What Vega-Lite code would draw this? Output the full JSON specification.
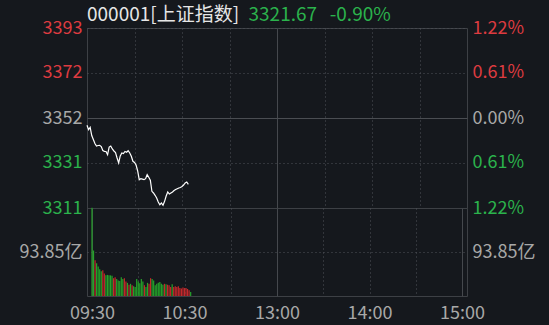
{
  "$schema": "https://vega.github.io/schema/vega-lite/v6.json",
  "background": "#15181d",
  "padding": {"left": 18, "top": 5, "right": 20, "bottom": 5},
  "spacing": 0,
  "bounds": "flush",
  "config": {
    "font": "Noto Sans CJK SC",
    "view": {"stroke": "#3d4045", "strokeWidth": 1},
    "axis": {"domain": false, "ticks": false, "labelFont": "Noto Sans CJK SC", "labelFontSize": 18, "labelColor": "#a8a8a8", "labelOverlap": false, "labelFlush": false, "title": null, "minExtent": 0}
  },
  "datasets": {
    "minutes": [
      {"m": 0, "price": 3348.52, "vol": 188, "dir": "down"},
      {"m": 1, "price": 3346.52, "vol": 97, "dir": "down"},
      {"m": 2, "price": 3347.62, "vol": 76, "dir": "up"},
      {"m": 3, "price": 3343.89, "vol": 70, "dir": "down"},
      {"m": 4, "price": 3342.07, "vol": 63, "dir": "down"},
      {"m": 5, "price": 3340.25, "vol": 57, "dir": "down"},
      {"m": 6, "price": 3339.12, "vol": 53, "dir": "down"},
      {"m": 7, "price": 3339.35, "vol": 55, "dir": "up"},
      {"m": 8, "price": 3339.44, "vol": 48, "dir": "up"},
      {"m": 9, "price": 3338.89, "vol": 44, "dir": "down"},
      {"m": 10, "price": 3337.07, "vol": 45, "dir": "down"},
      {"m": 11, "price": 3336.71, "vol": 44, "dir": "down"},
      {"m": 12, "price": 3336.62, "vol": 44, "dir": "down"},
      {"m": 13, "price": 3335.17, "vol": 43, "dir": "down"},
      {"m": 14, "price": 3338.66, "vol": 38, "dir": "up"},
      {"m": 15, "price": 3339.12, "vol": 40, "dir": "up"},
      {"m": 16, "price": 3337.76, "vol": 36, "dir": "down"},
      {"m": 17, "price": 3336.85, "vol": 33, "dir": "down"},
      {"m": 18, "price": 3336.17, "vol": 32, "dir": "down"},
      {"m": 19, "price": 3333.67, "vol": 40, "dir": "down"},
      {"m": 20, "price": 3331.40, "vol": 36, "dir": "down"},
      {"m": 21, "price": 3334.58, "vol": 38, "dir": "up"},
      {"m": 22, "price": 3335.94, "vol": 31, "dir": "up"},
      {"m": 23, "price": 3335.71, "vol": 28, "dir": "down"},
      {"m": 24, "price": 3336.62, "vol": 24, "dir": "up"},
      {"m": 25, "price": 3336.26, "vol": 26, "dir": "down"},
      {"m": 26, "price": 3336.98, "vol": 23, "dir": "up"},
      {"m": 27, "price": 3335.94, "vol": 21, "dir": "down"},
      {"m": 28, "price": 3334.44, "vol": 19, "dir": "down"},
      {"m": 29, "price": 3332.17, "vol": 36, "dir": "down"},
      {"m": 30, "price": 3331.62, "vol": 31, "dir": "down"},
      {"m": 31, "price": 3330.49, "vol": 27, "dir": "down"},
      {"m": 32, "price": 3327.76, "vol": 36, "dir": "down"},
      {"m": 33, "price": 3323.81, "vol": 31, "dir": "down"},
      {"m": 34, "price": 3324.26, "vol": 23, "dir": "up"},
      {"m": 35, "price": 3324.04, "vol": 19, "dir": "down"},
      {"m": 36, "price": 3323.81, "vol": 28, "dir": "down"},
      {"m": 37, "price": 3324.26, "vol": 26, "dir": "up"},
      {"m": 38, "price": 3326.08, "vol": 38, "dir": "up"},
      {"m": 39, "price": 3324.90, "vol": 36, "dir": "down"},
      {"m": 40, "price": 3323.54, "vol": 33, "dir": "down"},
      {"m": 41, "price": 3318.54, "vol": 23, "dir": "down"},
      {"m": 42, "price": 3317.77, "vol": 26, "dir": "down"},
      {"m": 43, "price": 3316.72, "vol": 28, "dir": "down"},
      {"m": 44, "price": 3315.49, "vol": 30, "dir": "down"},
      {"m": 45, "price": 3313.68, "vol": 26, "dir": "down"},
      {"m": 46, "price": 3312.45, "vol": 24, "dir": "down"},
      {"m": 47, "price": 3313.22, "vol": 26, "dir": "up"},
      {"m": 48, "price": 3312.18, "vol": 25, "dir": "down"},
      {"m": 49, "price": 3313.99, "vol": 24, "dir": "up"},
      {"m": 50, "price": 3316.40, "vol": 23, "dir": "up"},
      {"m": 51, "price": 3318.22, "vol": 19, "dir": "up"},
      {"m": 52, "price": 3317.31, "vol": 25, "dir": "down"},
      {"m": 53, "price": 3317.77, "vol": 19, "dir": "up"},
      {"m": 54, "price": 3318.22, "vol": 21, "dir": "up"},
      {"m": 55, "price": 3318.90, "vol": 19, "dir": "up"},
      {"m": 56, "price": 3319.36, "vol": 21, "dir": "up"},
      {"m": 57, "price": 3319.72, "vol": 17, "dir": "up"},
      {"m": 58, "price": 3320.04, "vol": 16, "dir": "up"},
      {"m": 59, "price": 3320.26, "vol": 18, "dir": "up"},
      {"m": 60, "price": 3320.72, "vol": 17, "dir": "up"},
      {"m": 61, "price": 3321.40, "vol": 17, "dir": "up"},
      {"m": 62, "price": 3322.31, "vol": 15, "dir": "up"},
      {"m": 63, "price": 3322.76, "vol": 12, "dir": "up"},
      {"m": 64, "price": 3321.67, "vol": 8.5, "dir": "down"}
    ]
  },
  "vconcat": [
    {
      "width": 380,
      "height": 180,
      "title": {
        "text": "000001[上证指数]",
        "subtitle": "\u200b\u3000\u3000\u3000\u3000\u3000\u3000\u3000\u3000\u20023321.67\u2002\u2006-0.90%",
        "anchor": "start",
        "frame": "group",
        "font": "Noto Sans CJK SC",
        "fontSize": 19,
        "fontWeight": "normal",
        "color": "#e6e6e6",
        "subtitleFont": "Noto Sans CJK SC",
        "subtitleFontSize": 19,
        "subtitleColor": "#2bb24c",
        "subtitlePadding": -19,
        "baseline": "alphabetic",
        "offset": -21
      },
      "data": {"name": "minutes"},
      "encoding": {
        "x": {
          "field": "m", "type": "quantitative",
          "scale": {"domain": [0, 240], "nice": false, "zero": false},
          "axis": {
            "values": [30, 60, 90, 120, 150, 180, 210],
            "labels": false,
            "labelPadding": 0,
            "grid": true,
            "gridColor": {"condition": {"test": "datum.value === 120", "value": "#45484d"}, "value": "#50535a"},
            "gridDash": {"condition": {"test": "datum.value === 120", "value": []}, "value": [1, 3]}
          }
        }
      },
      "layer": [
        {
          "mark": {"type": "line", "color": "#ffffff", "strokeWidth": 1.2},
          "encoding": {
            "y": {
              "field": "price", "type": "quantitative",
              "scale": {"domain": [3310.95, 3392.73], "nice": false, "zero": false},
              "axis": {
                "orient": "left",
                "values": [3310.95, 3331.4, 3351.84, 3372.29, 3392.73],
                "labelExpr": "format(datum.value, '.0f')",
                "labelPadding": 5,
                "labelColor": {"condition": [{"test": "datum.value > 3352.5", "value": "#dd3b40"}, {"test": "datum.value < 3351", "value": "#2bb24c"}], "value": "#a8a8a8"},
                "grid": true,
                "gridColor": {"condition": {"test": "datum.value > 3351 && datum.value < 3352.5", "value": "#4a4d52"}, "value": "#50535a"},
                "gridDash": {"condition": {"test": "datum.value > 3351 && datum.value < 3352.5", "value": []}, "value": [1, 3]}
              }
            }
          }
        },
        {
          "mark": {"type": "line", "strokeOpacity": 0},
          "encoding": {
            "y": {
              "field": "price", "type": "quantitative",
              "axis": {
                "orient": "right",
                "values": [3310.95, 3331.4, 3351.84, 3372.29, 3392.73],
                "labelExpr": "format(abs(datum.value - 3351.84) / 3351.84 * 100, '.2f') + '%'",
                "labelPadding": 5,
                "labelColor": {"condition": [{"test": "datum.value > 3352.5", "value": "#dd3b40"}, {"test": "datum.value < 3351", "value": "#2bb24c"}], "value": "#a8a8a8"},
                "grid": false
              }
            }
          }
        }
      ],
      "resolve": {"axis": {"y": "independent"}}
    },
    {
      "width": 380,
      "height": 88,
      "data": {"name": "minutes"},
      "encoding": {
        "x": {
          "field": "m", "type": "quantitative",
          "scale": {"domain": [0, 240], "nice": false, "zero": false},
          "axis": {
            "values": [0, 30, 60, 90, 120, 150, 180, 210, 240],
            "labelExpr": "datum.value === 0 ? '09:30' : datum.value === 60 ? '10:30' : datum.value === 120 ? '13:00' : datum.value === 180 ? '14:00' : datum.value === 240 ? '15:00' : ''",
            "labelPadding": 8,
            "grid": true,
            "gridColor": {"condition": {"test": "datum.value % 120 === 0", "value": "#45484d"}, "value": "#50535a"},
            "gridDash": {"condition": {"test": "datum.value % 120 === 0", "value": []}, "value": [1, 3]}
          }
        }
      },
      "layer": [
        {
          "mark": {"type": "bar", "width": 1.2},
          "encoding": {
            "y": {
              "field": "vol", "type": "quantitative",
              "scale": {"domain": [0, 187.7], "nice": false},
              "axis": {
                "orient": "left",
                "values": [93.85],
                "labelExpr": "'93.85亿'",
                "labelPadding": 5,
                "grid": true,
                "gridColor": "#50535a",
                "gridDash": [1, 3]
              }
            },
            "color": {
              "field": "dir", "type": "nominal",
              "scale": {"domain": ["up", "down"], "range": ["#c4282b", "#25a32a"]},
              "legend": null
            }
          }
        },
        {
          "mark": {"type": "bar", "width": 1.2, "opacity": 0},
          "encoding": {
            "y": {
              "field": "vol", "type": "quantitative",
              "axis": {
                "orient": "right",
                "values": [93.85],
                "labelExpr": "'93.85亿'",
                "labelPadding": 5,
                "grid": false
              }
            }
          }
        }
      ],
      "resolve": {"axis": {"y": "independent"}}
    }
  ]
}
